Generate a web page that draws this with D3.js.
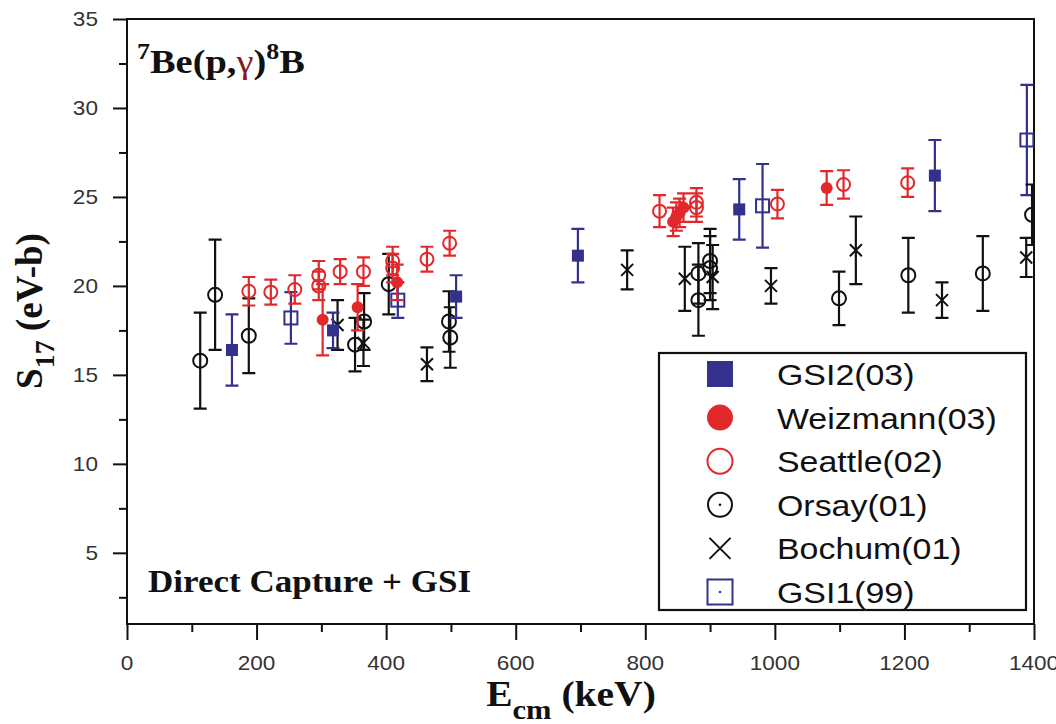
<!DOCTYPE html>
<html>
<head>
<meta charset="utf-8">
<script src="https://cdn.jsdelivr.net/npm/d3@7"></script>
<style>
  body { margin: 0; background: #fff; }
  svg { display: block; }
  .sans { font-family: "Liberation Sans", Arial, Helvetica, sans-serif; }
  .serif { font-family: "Liberation Serif", "Times New Roman", serif; font-weight: bold; }
</style>
</head>
<body>
<svg id="chart" width="1056" height="724"></svg>
<script>
// data: [E_cm (keV), S17 (eV-b), error]
var gsi2 = [[162, 16.4, 2.0], [318, 17.5, 1.0], [508, 19.4, 1.2], [696, 21.7, 1.5], [945, 24.3, 1.7], [1247, 26.2, 2.0]];
var weizmann = [[302, 18.1, 2.0], [356, 18.8, 1.3], [417, 20.2, 1.0], [843, 23.6, 0.8], [848, 23.9, 0.8],
  [853, 24.1, 0.8], [859, 24.4, 0.8], [1080, 25.5, 0.95]];
var seattle = [[188, 19.7, 0.8], [222, 19.65, 0.7], [259, 19.8, 0.8], [296, 20.6, 0.8], [296, 20.0, 0.8],
  [329, 20.8, 0.7], [365, 20.8, 0.8], [410, 21.4, 0.8], [410, 21.0, 0.8], [463, 21.5, 0.7], [498, 22.4, 0.7],
  [822, 24.2, 0.9], [879, 24.7, 0.8], [879, 24.4, 0.8], [1004, 24.6, 0.8], [1106, 25.7, 0.8], [1205, 25.8, 0.8]];
var orsay = [[113, 15.8, 2.7], [136, 19.5, 3.1], [188, 17.2, 2.1], [352, 16.7, 1.5], [366, 18.0, 1.6],
  [404, 20.1, 1.7], [497, 18.0, 1.7], [499, 17.1, 1.7], [882, 20.7, 1.7], [882, 19.2, 2.0], [900, 21.4, 1.8],
  [900, 21.0, 1.8], [1099, 19.3, 1.5], [1206, 20.6, 2.1], [1321, 20.7, 2.1], [1397, 24.0, 1.7]];
var bochum = [[325, 17.8, 1.4], [365, 16.8, 1.3], [463, 15.6, 0.95], [772, 20.9, 1.1], [861, 20.4, 1.8],
  [904, 20.5, 1.8], [994, 20.0, 1.0], [1125, 22.0, 1.9], [1258, 19.2, 1.0], [1388, 21.6, 1.1]];
var gsi1 = [[253, 18.2, 1.45], [418, 19.2, 1.0], [981, 24.5, 2.35], [1389, 28.2, 3.1]];

var legendNames = ["GSI2(03)", "Weizmann(03)", "Seattle(02)", "Orsay(01)", "Bochum(01)", "GSI1(99)"];
var xTicks = [0, 200, 400, 600, 800, 1000, 1200, 1400];
var yTicks = [5, 10, 15, 20, 25, 30, 35];

var RED = "#e3282c", NAVY = "#34318d", BLACK = "#111";

var svg = d3.select("svg"),
  plotL = 127, plotR = 1034, plotT = 19, plotB = 624;

var x = d3.scaleLinear().domain([0, 1400]).range([plotL, plotR]);
var y = d3.scaleLinear().domain([1, 35]).range([plotB, plotT]);

// stretch text a little sideways like the scanned figure
var SX = 1.13;

//clip for the data
svg.append("defs").append("clipPath").attr("id", "plot")
  .append("rect").attr("x", plotL).attr("y", plotT - 20).attr("width", plotR - plotL).attr("height", plotB - plotT + 20);

//axes
var xAxis = svg.append("g").attr("transform", "translate(0," + plotB + ")")
  .call(d3.axisBottom(x).tickValues(xTicks).tickSize(16).tickFormat(""));
var xMinor = svg.append("g").attr("transform", "translate(0," + plotB + ")")
  .call(d3.axisBottom(x).tickValues(d3.range(100, 1400, 200)).tickSize(8).tickFormat(""));
var yAxis = svg.append("g").attr("transform", "translate(" + plotL + ",0)")
  .call(d3.axisLeft(y).tickValues(yTicks).tickSize(14).tickFormat(""));
var yMinor = svg.append("g").attr("transform", "translate(" + plotL + ",0)")
  .call(d3.axisLeft(y).tickValues(d3.range(2.5, 35, 5)).tickSize(8).tickFormat(""));
[xAxis, xMinor, yAxis, yMinor].forEach(function (a) {
  a.select(".domain").remove();
  a.selectAll("line").attr("stroke", BLACK).attr("stroke-width", 2);
});

//frame
svg.append("path")
  .attr("d", "M" + plotL + "," + plotB + "V" + plotT + "H" + plotR + "V" + plotB + "Z")
  .attr("fill", "none").attr("stroke", BLACK).attr("stroke-width", 2);

//tick labels
xTicks.forEach(function (t) {
  svg.append("text").attr("class", "sans")
    .attr("transform", "translate(" + x(t) + ",670) scale(" + SX + ",1)")
    .attr("text-anchor", "middle").attr("font-size", 20).attr("fill", "#333")
    .text(t);
});
yTicks.forEach(function (t) {
  svg.append("text").attr("class", "sans")
    .attr("transform", "translate(98," + (y(t) + 7) + ") scale(" + SX + ",1)")
    .attr("text-anchor", "end").attr("font-size", 20).attr("fill", "#333")
    .text(t);
});

//axis titles
var xt = svg.append("text").attr("class", "serif")
  .attr("transform", "translate(571,706) scale(" + SX + ",1)")
  .attr("text-anchor", "middle").attr("font-size", 35).attr("fill", BLACK);
xt.append("tspan").text("E");
xt.append("tspan").attr("dy", 13).attr("font-size", 27).text("cm");
xt.append("tspan").attr("dy", -13).text(" (keV)");

var yt = svg.append("text").attr("class", "serif")
  .attr("transform", "translate(42,311) rotate(-90)")
  .attr("text-anchor", "middle").attr("font-size", 37).attr("fill", BLACK);
yt.append("tspan").text("S");
yt.append("tspan").attr("dy", 12).attr("font-size", 28).text("17");
yt.append("tspan").attr("dy", -12).text(" (eV-b)");

//reaction label
var rl = svg.append("text").attr("class", "serif")
  .attr("transform", "translate(137,73) scale(" + SX + ",1)")
  .attr("font-size", 34).attr("fill", BLACK);
rl.append("tspan").attr("dy", -14).attr("font-size", 23).text("7");
rl.append("tspan").attr("dy", 14).text("Be(p,");
rl.append("tspan").attr("fill", "#8a1a1a").attr("font-weight", "normal").text("γ");
rl.append("tspan").text(")");
rl.append("tspan").attr("dy", -14).attr("font-size", 23).text("8");
rl.append("tspan").attr("dy", 14).text("B");

svg.append("text").attr("class", "serif")
  .attr("transform", "translate(148,592) scale(" + SX + ",1)")
  .attr("font-size", 31).attr("fill", BLACK)
  .text("Direct Capture + GSI");

//markers
function drawMarker(g, type, s, color) {
  if (type == "fsq") {
    g.append("rect").attr("x", -s / 2).attr("y", -s / 2).attr("width", s).attr("height", s).attr("fill", color);
  } else if (type == "osq") {
    g.append("rect").attr("x", -s / 2).attr("y", -s / 2).attr("width", s).attr("height", s)
      .attr("fill", "none").attr("stroke", color).attr("stroke-width", 2);
  } else if (type == "fci") {
    g.append("circle").attr("r", s / 2).attr("fill", color);
  } else if (type == "oci") {
    g.append("circle").attr("r", s / 2).attr("fill", "none").attr("stroke", color).attr("stroke-width", 2);
  } else if (type == "x") {
    var h = s / 2;
    g.append("path").attr("d", "M" + -h + "," + -h + "L" + h + "," + h + "M" + -h + "," + h + "L" + h + "," + -h)
      .attr("stroke", color).attr("stroke-width", 2);
  }
}

var series = [
  { data: gsi1, type: "osq", size: 13, color: NAVY },
  { data: bochum, type: "x", size: 12, color: BLACK },
  { data: orsay, type: "oci", size: 14, color: BLACK },
  { data: seattle, type: "oci", size: 13, color: RED },
  { data: weizmann, type: "fci", size: 12, color: RED },
  { data: gsi2, type: "fsq", size: 12, color: NAVY }
];

var plot = svg.append("g").attr("clip-path", "url(#plot)");

series.forEach(function (s) {
  var pts = plot.append("g").selectAll("g")
    .data(s.data)
    .enter().append("g")
    .attr("transform", function (d) { return "translate(" + x(d[0]) + "," + y(d[1]) + ")"; });

  //error bars
  pts.append("path")
    .attr("d", function (d) {
      var up = y(d[1] + d[2]) - y(d[1]), dn = y(d[1] - d[2]) - y(d[1]);
      return "M0," + up + "V" + dn + "M-6.5," + up + "H6.5M-6.5," + dn + "H6.5";
    })
    .attr("fill", "none").attr("stroke", s.color).attr("stroke-width", 2.2);

  pts.each(function () { drawMarker(d3.select(this), s.type, s.size, s.color); });
});

//legend
var legendTypes = [
  { type: "fsq", size: 26, color: NAVY },
  { type: "fci", size: 26, color: RED },
  { type: "oci", size: 25, color: RED },
  { type: "oci", size: 24, color: BLACK, dot: true },
  { type: "x", size: 21, color: BLACK },
  { type: "osq", size: 25, color: NAVY, dot: true }
];

var legend = svg.append("g");
legend.append("rect")
  .attr("x", 659).attr("y", 353).attr("width", 367).attr("height", 257)
  .attr("fill", "#fff").attr("stroke", BLACK).attr("stroke-width", 2.2);

var rows = legend.selectAll(".row")
  .data(legendNames)
  .enter().append("g")
  .attr("class", "row")
  .attr("transform", function (d, i) { return "translate(0," + (374 + i * 43.6) + ")"; });

rows.each(function (d, i) {
  var r = d3.select(this);
  var lt = legendTypes[i];
  var m = r.append("g").attr("transform", "translate(720,0)");
  drawMarker(m, lt.type, lt.size, lt.color);
  if (lt.dot) m.append("circle").attr("r", 1.3).attr("fill", lt.color);
  r.append("text").attr("class", "sans")
    .attr("transform", "translate(777,11) scale(" + SX + ",1)")
    .attr("font-size", 30).attr("fill", BLACK)
    .text(d);
});
</script>
</body>
</html>
